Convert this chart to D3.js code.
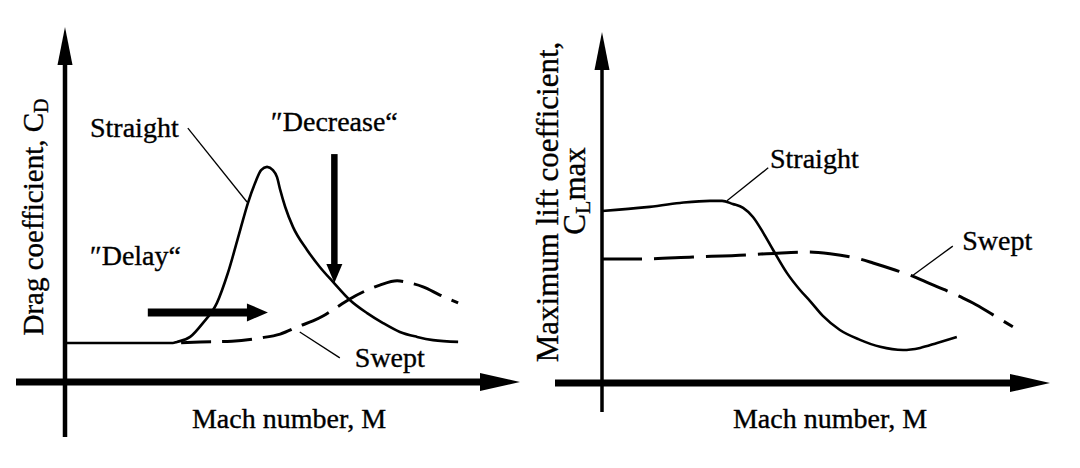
<!DOCTYPE html>
<html><head><meta charset="utf-8">
<script src="https://cdn.jsdelivr.net/npm/d3@7"></script>
<style>
html,body{margin:0;padding:0;background:#fff;}
svg{display:block;}
text{font-family:"Liberation Serif","Times New Roman",serif;fill:#000;stroke:#000;stroke-width:0.35px;}
</style>
</head><body>
<svg id="chart" width="1080" height="468" font-family="Liberation Serif, serif"></svg>
<script>
// ---------- DATA (relative units, 0-100 of each axis) ----------
// Left panel: drag coefficient vs Mach number
const dragStraightMach = [0, 12.1, 23.7, 24.6, 27.5, 30.3, 33.4, 35.8, 38.5, 40.2, 41.8, 43.1, 44.4, 45.7, 46.6, 47.3, 48.4, 50.1, 53.2, 56.0, 58.9, 62.6, 66.4, 69.9, 73.6, 77.4, 80.9, 86.4];
const dragStraightCD   = [11.0, 11.0, 11.0, 11.3, 12.7, 16.6, 22.3, 30.7, 42.8, 50.4, 56.1, 59.7, 60.6, 59.7, 57.7, 54.1, 49.3, 43.7, 37.2, 32.4, 28.2, 23.1, 19.4, 16.6, 14.1, 12.7, 11.8, 11.3];
const dragSweptMach = [24.2, 29.7, 36.7, 42.9, 47.3, 51.6, 54.5, 56.7, 59.8, 62.6, 65.9, 69.2, 73.0, 75.8, 78.7, 82.4, 86.4];
const dragSweptCD   = [11.0, 11.3, 11.5, 12.4, 13.5, 15.8, 17.2, 18.6, 21.1, 23.4, 25.6, 27.3, 28.5, 27.9, 26.8, 24.5, 22.3];

// Right panel: maximum lift coefficient vs Mach number
const liftStraightMach = [0, 10.0, 17.4, 24.1, 26.8, 29.2, 31.5, 33.7, 35.9, 38.2, 41.3, 44.2, 46.4, 49.3, 53.1, 57.6, 62.1, 67.2, 71.0, 74.8, 79.2];
const liftStraightCL   = [49.0, 50.1, 51.3, 51.9, 51.9, 51.0, 49.9, 47.3, 43.0, 37.9, 31.3, 26.5, 23.4, 19.1, 15.1, 12.3, 10.3, 9.4, 10.0, 11.4, 13.1];
const liftSweptMach = [0, 8.5, 20.3, 32.4, 39.1, 46.0, 50.9, 57.6, 60.5, 65.4, 69.2, 72.3, 76.6, 80.6, 82.8, 87.3, 91.7];
const liftSweptCL   = [35.3, 35.3, 35.9, 36.5, 37.0, 37.3, 36.8, 35.3, 34.2, 32.2, 30.5, 28.8, 26.5, 24.2, 22.8, 19.4, 16.0];

// Annotation texts
const leftTitleX  = "Mach number, M";
const rightTitleX = "Mach number, M";
const leftTitleY  = ["Drag coefficient, C", "D"];
const rightTitleY = ["Maximum lift coefficient,", "C", "L", "max"];
const leftLabels  = [
  {t:"Straight", x:5.5, y:69.0},
  {t:"\u2033Decrease\u201C", x:45.3, y:70.7},
  {t:"\u2033Delay\u201C", x:5.5, y:33.0},
  {t:"Swept", x:63.7, y:4.2}
];
const rightLabels = [
  {t:"Straight", x:37.5, y:61.3},
  {t:"Swept", x:80.4, y:37.9}
];
// leader lines [x1,y1,x2,y2] in data units
const leftLeaders  = [[27.0, 71.5, 40.0, 50.7], [51.6, 14.1, 60.4, 6.8]];
const rightLeaders = [[27.9, 51.9, 37.1, 61.3], [69.2, 30.5, 78.3, 39.0]];
// annotation arrows: "Delay" (horizontal) and "Decrease" (vertical)
const delayArrow    = {x1:18.2, x2:44.6, y:19.6};
const decreaseArrow = {x:59.2, y1:64.2, y2:27.9};

// ---------- DRAWING ----------
const svg = d3.select("#chart");
svg.append("rect").attr("width",1080).attr("height",468).attr("fill","#fff");

function panel(cfg){
  const x = d3.scaleLinear().domain([0,100]).range([cfg.ox, cfg.tipX]);
  const y = d3.scaleLinear().domain([0,100]).range([cfg.oy, cfg.tipY]);
  const g = svg.append("g");

  // axes with arrowheads
  g.append("line").attr("x1",cfg.xStart).attr("x2",x(100)-30)
    .attr("y1",y(0)).attr("y2",y(0)).attr("stroke","#000").attr("stroke-width",7);
  g.append("path").attr("d",`M${x(100)},${y(0)} L${x(100)-40},${y(0)-9} L${x(100)-40},${y(0)+9} Z`).attr("fill","#000");
  g.append("line").attr("x1",x(0)).attr("x2",x(0))
    .attr("y1",cfg.yEnd).attr("y2",y(100)+30).attr("stroke","#000").attr("stroke-width",cfg.yAxisW);
  g.append("path").attr("d",`M${x(0)},${y(100)} L${x(0)-7.5},${y(100)+38} L${x(0)+7.5},${y(100)+38} Z`).attr("fill","#000");

  const line = d3.line().x(d=>x(d[0])).y(d=>y(d[1])).curve(d3.curveMonotoneX);
  const sData = cfg.sx.map((v,i)=>[v,cfg.sy[i]]);
  const wData = cfg.wx.map((v,i)=>[v,cfg.wy[i]]);
  g.append("path").attr("d",line(sData)).attr("fill","none").attr("stroke","#000").attr("stroke-width",2.6);
  g.append("path").attr("d",line(wData)).attr("fill","none").attr("stroke","#000").attr("stroke-width",3)
    .attr("stroke-dasharray",cfg.dash).attr("stroke-dashoffset",cfg.dashOff);

  cfg.leaders.forEach(l=>{
    g.append("line").attr("x1",x(l[0])).attr("y1",y(l[1])).attr("x2",x(l[2])).attr("y2",y(l[3]))
      .attr("stroke","#000").attr("stroke-width",1.3);
  });
  cfg.labels.forEach(l=>{
    g.append("text").attr("x",x(l.x)).attr("y",y(l.y)).attr("font-size",28).text(l.t);
  });
  g.append("text").attr("x",cfg.titleXc).attr("y",428).attr("text-anchor","middle")
    .attr("font-size",28).text(cfg.titleX);
  return {x,y,g};
}

// Left panel
const L = panel({ox:65, oy:382, tipX:520, tipY:27, xStart:16, yEnd:437, yAxisW:4.5,
  sx:dragStraightMach, sy:dragStraightCD, wx:dragSweptMach, wy:dragSweptCD,
  dash:"30,11", dashOff:-6, leaders:leftLeaders, labels:leftLabels,
  titleX:leftTitleX, titleXc:289});
// Right panel
const R = panel({ox:602, oy:383, tipX:1050, tipY:32, xStart:555, yEnd:412, yAxisW:3.5,
  sx:liftStraightMach, sy:liftStraightCL, wx:liftSweptMach, wy:liftSweptCL,
  dash:"40,12", dashOff:0, leaders:rightLeaders, labels:rightLabels,
  titleX:rightTitleX, titleXc:830});

// Delay arrow
L.g.append("line").attr("x1",L.x(delayArrow.x1)).attr("x2",L.x(delayArrow.x2)-18)
  .attr("y1",L.y(delayArrow.y)).attr("y2",L.y(delayArrow.y)).attr("stroke","#000").attr("stroke-width",8);
L.g.append("path").attr("d",`M${L.x(delayArrow.x2)},${L.y(delayArrow.y)} L${L.x(delayArrow.x2)-21},${L.y(delayArrow.y)-9} L${L.x(delayArrow.x2)-21},${L.y(delayArrow.y)+9} Z`).attr("fill","#000");
// Decrease arrow
L.g.append("line").attr("x1",L.x(decreaseArrow.x)).attr("x2",L.x(decreaseArrow.x))
  .attr("y1",L.y(decreaseArrow.y1)).attr("y2",L.y(decreaseArrow.y2)-16).attr("stroke","#000").attr("stroke-width",6.5);
L.g.append("path").attr("d",`M${L.x(decreaseArrow.x)},${L.y(decreaseArrow.y2)} L${L.x(decreaseArrow.x)-8},${L.y(decreaseArrow.y2)-19} L${L.x(decreaseArrow.x)+8},${L.y(decreaseArrow.y2)-19} Z`).attr("fill","#000");

// Y titles
const ly = svg.append("text").attr("transform","translate(43,217) rotate(-90)")
  .attr("text-anchor","middle").attr("font-size",29);
ly.append("tspan").text(leftTitleY[0]);
ly.append("tspan").attr("font-size",20).attr("dy",5).text(leftTitleY[1]);

svg.append("text").attr("transform","translate(558,202) rotate(-90)")
  .attr("text-anchor","middle").attr("font-size",31).text(rightTitleY[0]);
const ry = svg.append("text").attr("transform","translate(585,191) rotate(-90)")
  .attr("text-anchor","middle").attr("font-size",31);
ry.append("tspan").text(rightTitleY[1]);
ry.append("tspan").attr("font-size",22).attr("dy",5).text(rightTitleY[2]);
ry.append("tspan").attr("dy",-5).text(rightTitleY[3]);
</script>
</body></html>
